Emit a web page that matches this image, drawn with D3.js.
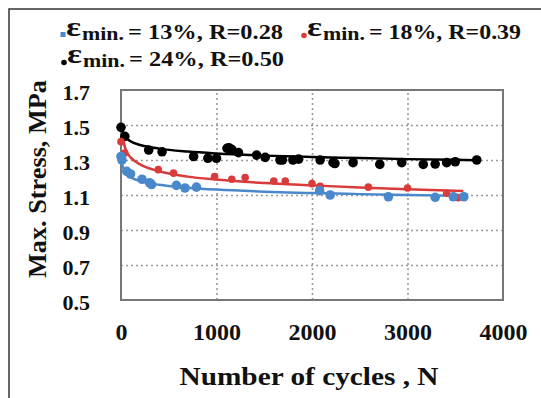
<!DOCTYPE html>
<html><head><meta charset="utf-8">
<script src="https://cdn.jsdelivr.net/npm/d3@7"></script>
<style>
body{margin:0;background:#fff}svg{display:block}
text{font-family:"Liberation Serif","Times New Roman",serif;font-weight:bold;fill:#111}
</style>
</head><body><svg id="c" width="541" height="398"></svg>
<script>
const xTicks = [0, 1000, 2000, 3000, 4000];
const yTicks = [0.5, 0.7, 0.9, 1.1, 1.3, 1.5, 1.7];
const seriesNames = ["= 13%, R=0.28", "= 18%, R=0.39", "= 24%, R=0.50"];
const colors = ["#4a88cc", "#d93b3b", "#000000"];

const blueN = [0, 10, 60, 100, 220, 300, 320, 580, 670, 790, 2080, 2190, 2800, 3290, 3480, 3590];
const blueS = [1.32, 1.30, 1.235, 1.22, 1.19, 1.17, 1.16, 1.155, 1.14, 1.145, 1.125, 1.10, 1.09, 1.087, 1.09, 1.09];
const redN = [0, 40, 390, 550, 980, 1160, 1300, 1600, 1720, 2000, 2085, 2590, 3000, 3410, 3530];
const redS = [1.405, 1.34, 1.245, 1.225, 1.205, 1.19, 1.20, 1.18, 1.18, 1.165, 1.15, 1.145, 1.14, 1.11, 1.085];
const blackN = [0, 40, 290, 430, 760, 910, 1000, 1110, 1130, 1160, 1230, 1420, 1510, 1665, 1690, 1800, 1860, 2085, 2220, 2240, 2430, 2710, 2940, 3165, 3290, 3410, 3500, 3725];
const blackS = [1.487, 1.435, 1.357, 1.347, 1.32, 1.31, 1.31, 1.367, 1.37, 1.36, 1.342, 1.328, 1.315, 1.30, 1.30, 1.30, 1.305, 1.30, 1.285, 1.28, 1.285, 1.275, 1.285, 1.275, 1.277, 1.285, 1.29, 1.30];

const trendN = [10, 50, 100, 200, 400, 700, 1000, 1500, 2000, 2500, 3000, 3585];
const blueTrend = [1.275, 1.223, 1.201, 1.180, 1.158, 1.142, 1.131, 1.119, 1.111, 1.105, 1.100, 1.095];
const redTrend = [1.445, 1.357, 1.315, 1.275, 1.236, 1.205, 1.188, 1.168, 1.155, 1.143, 1.133, 1.122];
const blackTrendN = [15, 50, 100, 200, 400, 700, 1000, 1500, 2000, 2500, 3000, 3725];
const blackTrend = [1.465, 1.43, 1.407, 1.386, 1.365, 1.348, 1.337, 1.325, 1.317, 1.311, 1.305, 1.299];

const svg = d3.select("#c");
const L = 121, R = 503, T = 90, B = 300;
const x = d3.scaleLinear().domain([0, 4000]).range([L, R]);
const y = d3.scaleLinear().domain([0.5, 1.7]).range([B, T]);

// outer frame
svg.append("rect").attr("x", 9).attr("y", 9).attr("width", 560).attr("height", 420)
  .attr("fill", "none").attr("stroke", "#333").attr("stroke-width", 1.5);

// grid
const gx = svg.append("g").attr("transform", `translate(0,${B})`)
  .call(d3.axisBottom(x).tickValues(xTicks.slice(1, -1)).tickSize(-(B - T)).tickFormat(""));
const gy = svg.append("g").attr("transform", `translate(${L},0)`)
  .call(d3.axisLeft(y).tickValues(yTicks.slice(1, -1)).tickSize(-(R - L)).tickFormat(""));
[gx, gy].forEach(g => {
  g.select(".domain").remove();
  g.selectAll("line").attr("stroke", "#9a9a9a").attr("stroke-width", 1.6).attr("stroke-dasharray", "2,3");
});

// tick labels
const xl = svg.append("g").attr("transform", `translate(0,${B + 40})`)
  .call(d3.axisBottom(x).tickValues(xTicks).tickSize(0).tickFormat(d3.format("d")));
xl.select(".domain").remove();
xl.attr("font-family", null).attr("font-size", null);
xl.selectAll("text").style("font-size", "24px").attr("y", 0).attr("dy", 0);
const yl = svg.append("g").attr("transform", `translate(90,0)`)
  .call(d3.axisLeft(y).tickValues(yTicks).tickSize(0).tickFormat(d3.format(".1f")));
yl.select(".domain").remove();
yl.attr("font-family", null).attr("font-size", null);
yl.selectAll("text").style("font-size", "22px").attr("x", 0).attr("dy", 0)
  .attr("transform", "translate(0,9)");

// plot frame
svg.append("rect").attr("x", L).attr("y", T).attr("width", R - L).attr("height", B - T)
  .attr("fill", "none").attr("stroke", "#777").attr("stroke-width", 2);

// trend lines
const line = d3.line().x(d => x(d[0])).y(d => y(d[1])).curve(d3.curveMonotoneX);
const trends = [
  [trendN.map((n, i) => [n, blueTrend[i]]), colors[0]],
  [trendN.map((n, i) => [n, redTrend[i]]), colors[1]],
  [blackTrendN.map((n, i) => [n, blackTrend[i]]), colors[2]]
];
trends.forEach(([d, c]) => svg.append("path").datum(d).attr("d", line)
  .attr("fill", "none").attr("stroke", c).attr("stroke-width", 2.5));

// points
function pts(N, S, c, r) {
  svg.append("g").selectAll("circle").data(N.map((n, i) => [n, S[i]])).join("circle")
    .attr("cx", d => x(d[0])).attr("cy", d => y(d[1])).attr("r", r).attr("fill", c);
}
pts(blackN, blackS, colors[2], 4.8);
pts(redN, redS, colors[1], 3.8);
pts(blueN, blueS, colors[0], 4.8);

// axis titles
svg.append("text").attr("x", 309).attr("y", 385).attr("text-anchor", "middle")
  .style("font-size", "25px").attr("textLength", 259).attr("lengthAdjust", "spacingAndGlyphs")
  .text("Number of cycles ,  N");
svg.append("text").attr("transform", `translate(46,179) rotate(-90)`).attr("text-anchor", "middle")
  .style("font-size", "25px").attr("textLength", 198).attr("lengthAdjust", "spacingAndGlyphs")
  .text("Max. Stress,  MPa");

// legend
const legendPos = [[63, 39], [304, 39], [64, 66]];
seriesNames.forEach((name, i) => {
  const [lx, ly] = legendPos[i];
  if (i === 0) svg.append("rect").attr("x", lx - 2.5).attr("y", ly - 7).attr("width", 5).attr("height", 5).attr("fill", colors[i]);
  else svg.append("circle").attr("cx", lx).attr("cy", ly - 3.5).attr("r", 2.8).attr("fill", colors[i]);
  svg.append("text").attr("x", lx + 3).attr("y", ly - 3).style("font-size", "28px")
    .attr("textLength", 15).attr("lengthAdjust", "spacingAndGlyphs").text("\u03b5");
  svg.append("text").attr("x", lx + 19).attr("y", ly + 1).style("font-size", "19px")
    .attr("textLength", 42).attr("lengthAdjust", "spacingAndGlyphs").text("min.");
  svg.append("text").attr("x", lx + 65).attr("y", ly).style("font-size", "22px")
    .attr("textLength", i === 1 ? 152 : 155).attr("lengthAdjust", "spacingAndGlyphs").text(name);
});
</script></body></html>
